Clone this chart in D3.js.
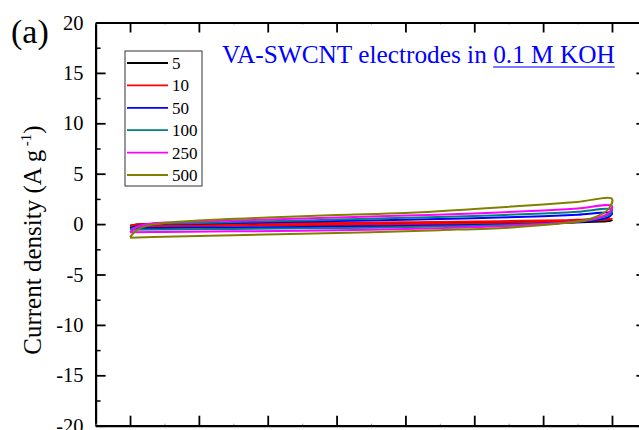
<!DOCTYPE html>
<html><head><meta charset="utf-8">
<script src="https://cdn.jsdelivr.net/npm/d3@7"></script>
<style>html,body{margin:0;padding:0;background:#fff;}svg{display:block;font-family:"Liberation Serif","Times New Roman",serif;}</style>
</head><body><svg id="c" width="639" height="430"></svg>
<script>
const seriesNames = ["5","10","50","100","250","500"];
const seriesColors = ["#000000","#ff0000","#0000ff","#008080","#ff00ff","#808000"];
const upperV = [0,0.02,0.05,0.1,0.2,0.4,0.6,0.8,1.0,1.2,1.3,1.4];
const lowerV = [1.4,1.39,1.37,1.33,1.25,1.1,0.9,0.7,0.5,0.3,0.1,0];
const upper5   = [-0.15,-0.05,0.0,0.02,0.03,0.05,0.08,0.12,0.17,0.24,0.3,0.38];
const lower5   = [0.35,0.3,0.26,0.2,0.12,0.04,-0.02,-0.05,-0.08,-0.11,-0.13,-0.15];
const upper10  = [-0.2,-0.05,0.02,0.05,0.06,0.08,0.12,0.18,0.25,0.35,0.42,0.55];
const lower10  = [0.5,0.45,0.4,0.32,0.2,0.08,0.0,-0.05,-0.1,-0.14,-0.18,-0.2];
const upper50  = [-0.4,-0.2,-0.05,0.02,0.08,0.18,0.3,0.42,0.58,0.78,0.92,1.1];
const lower50  = [1.0,0.7,0.5,0.3,0.1,-0.05,-0.15,-0.22,-0.28,-0.33,-0.38,-0.4];
const upper100 = [-0.55,-0.25,-0.05,0.05,0.12,0.28,0.45,0.62,0.8,1.05,1.22,1.45];
const lower100 = [1.3,0.9,0.65,0.35,0.1,-0.1,-0.25,-0.35,-0.42,-0.48,-0.53,-0.55];
const upper250 = [-0.8,-0.3,0.0,0.15,0.25,0.45,0.65,0.85,1.05,1.35,1.55,1.8];
const lower250 = [1.6,1.1,0.75,0.4,0.1,-0.2,-0.4,-0.55,-0.65,-0.72,-0.78,-0.8];
const upper500 = [-1.3,-0.6,-0.15,0.1,0.35,0.65,0.9,1.1,1.5,1.95,2.2,2.5];
const lower500 = [2.3,1.5,1.0,0.45,0.05,-0.35,-0.6,-0.8,-0.95,-1.1,-1.25,-1.35];
const uppers = [upper5,upper10,upper50,upper100,upper250,upper500];
const lowers = [lower5,lower10,lower50,lower100,lower250,lower500];
const xMajorTicks = [0,0.2,0.4,0.6,0.8,1.0,1.2,1.4];
const xMinorTicks = [-0.1,0.1,0.3,0.5,0.7,0.9,1.1,1.3,1.5];
const yMajorTicks = [-20,-15,-10,-5,0,5,10,15,20];
const yMinorTicks = [-17.5,-12.5,-7.5,-2.5,2.5,7.5,12.5,17.5];

const svg = d3.select("#c");
const L=95.6, R=646.4, T=22.5, B=425.7;
const x = d3.scaleLinear().domain([-0.1,1.5]).range([L,R]);
const y = d3.scaleLinear().domain([-20,20]).range([B,T]);

// curves
const line = d3.line().x(d=>x(d[0])).y(d=>y(d[1])).curve(d3.curveCatmullRom.alpha(0.5));
seriesNames.forEach((n,i)=>{
  const pts = upperV.map((v,j)=>[v,uppers[i][j]]).concat(lowerV.map((v,j)=>[v,lowers[i][j]]).slice(1));
  svg.append("path").attr("d",line(pts)).attr("fill","none")
    .attr("stroke",seriesColors[i]).attr("stroke-width",2).attr("stroke-linejoin","round");
});

function styleAxis(g){g.selectAll("path,line").attr("stroke","#000");g.select(".domain").attr("stroke-width",2.2);g.selectAll(".tick line").attr("stroke-width",1.8);}
const fmt = d=> d<0 ? "-"+Math.abs(d) : String(d);
// left axis
svg.append("g").attr("transform",`translate(${L},0)`)
  .call(d3.axisLeft(y).tickValues(yMinorTicks).tickSize(-5).tickSizeOuter(0).tickFormat(""))
  .call(g=>g.select(".domain").remove()).call(g=>g.selectAll("line").attr("stroke","#000").attr("stroke-width",1.5));
const gl = svg.append("g").attr("transform",`translate(${L},0)`)
  .call(d3.axisLeft(y).tickValues(yMajorTicks).tickSize(-10).tickSizeOuter(0).tickPadding(12).tickFormat(fmt));
styleAxis(gl);
gl.attr("font-family","Liberation Serif");
gl.selectAll("text").attr("font-size",20.5).attr("font-family","Liberation Serif").attr("fill","#000");
// right axis
svg.append("g").attr("transform",`translate(${R},0)`)
  .call(d3.axisRight(y).tickValues(yMinorTicks).tickSize(-5).tickSizeOuter(0).tickFormat(""))
  .call(g=>g.select(".domain").remove()).call(g=>g.selectAll("line").attr("stroke","#000").attr("stroke-width",1.5));
styleAxis(svg.append("g").attr("transform",`translate(${R},0)`)
  .call(d3.axisRight(y).tickValues(yMajorTicks).tickSize(-10).tickSizeOuter(0).tickFormat("")));
// top / bottom
[["axisTop",T],["axisBottom",B]].forEach(([a,p])=>{
  svg.append("g").attr("transform",`translate(0,${p})`)
    .call(d3[a](x).tickValues(xMinorTicks).tickSize(-2).tickSizeOuter(0).tickFormat(""))
    .call(g=>g.select(".domain").remove()).call(g=>g.selectAll("line").attr("stroke","#999").attr("stroke-width",1));
  styleAxis(svg.append("g").attr("transform",`translate(0,${p})`)
    .call(d3[a](x).tickValues(xMajorTicks).tickSize(-10).tickSizeOuter(0).tickFormat("")));
});

// y label
const yl = svg.append("text").attr("transform","translate(41,240) rotate(-90)")
  .attr("text-anchor","middle").attr("font-size",25).attr("fill","#000");
yl.append("tspan").text("Current density (A g");
yl.append("tspan").attr("font-size",15).attr("dy",-10).text(" -1");
yl.append("tspan").attr("dy",10).text(")");

// panel label
svg.append("text").attr("x",11).attr("y",43).attr("font-size",34).attr("fill","#000").text("(a)");

// annotation
const annoParts = ["VA-SWCNT electrodes in ","0.1 M KOH"];
const ax0 = 222, ax1 = 615, ay = 63;
const t1 = svg.append("text").attr("x",ax0).attr("y",ay).attr("font-size",20).attr("fill","#0000ff");
const s1 = t1.append("tspan").text(annoParts[0]);
const s2 = t1.append("tspan").text(annoParts[1]);
const w = t1.node().getComputedTextLength();
const fs = 20*(ax1-ax0)/w;
t1.attr("font-size",fs);
const w1 = s1.node().getComputedTextLength();
const wt = t1.node().getComputedTextLength();
svg.append("line").attr("x1",ax0+w1).attr("x2",ax0+wt).attr("y1",ay+4).attr("y2",ay+4)
  .attr("stroke","#4a4aff").attr("stroke-width",1.3);

// legend
const lg = svg.append("g");
lg.append("rect").attr("x",125).attr("y",51).attr("width",77).attr("height",135)
  .attr("fill","#fff").attr("stroke","#333").attr("stroke-width",1);
seriesNames.forEach((n,i)=>{
  const yy = 63 + i*22.4;
  lg.append("line").attr("x1",127).attr("x2",168).attr("y1",yy).attr("y2",yy)
    .attr("stroke",seriesColors[i]).attr("stroke-width",1.8);
  lg.append("text").attr("x",172).attr("y",yy).attr("dy","0.35em").attr("font-size",17).attr("fill","#000").text(n);
});
</script></body></html>
